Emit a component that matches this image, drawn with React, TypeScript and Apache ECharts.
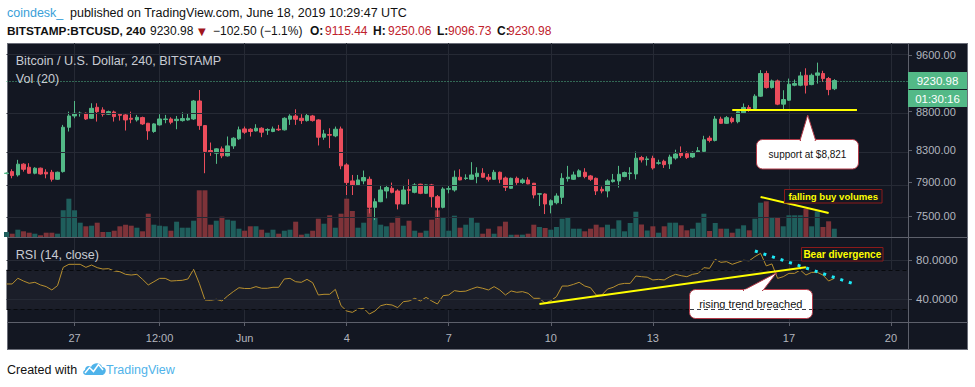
import React, { useEffect, useRef } from "react";
import * as echarts from "echarts";

const FONT = "'Liberation Sans', Arial, sans-serif";

// 4h candles, starting 2019-05-25 00:00 UTC
const categories: string[] = [];
for (let i = 0; i < 160; i++) {
  const d = new Date(Date.UTC(2019, 4, 25) + i * 4 * 3600 * 1000);
  categories.push(d.toISOString().slice(0, 16).replace("T", " "));
}

const timeTickIndex = [12, 27, 42, 60, 78, 96, 114, 138, 156];
const timeTickLabels = ["27", "12:00", "Jun", "4", "7", "10", "13", "17", "20"];
const priceTicks = [9600, 8800, 8300, 7900, 7500];
const priceMin = 7262;
const priceMax = 9778;
const volumeMax = 6000;
const rsiTicks = [80, 40];
const rsiBand = [30, 70];
const rsiMin = 16.9;
const rsiMax = 103.4;
const lastPrice = 9230.98;
const supportLevel = 8821;

const opens = [
  8005, 8028, 7987, 8120, 8082, 8008, 8070, 8020, 8020, 7934,
  8028, 8593, 8743, 8775, 8779, 8712, 8860, 8824, 8766, 8797,
  8766, 8757, 8712, 8690, 8721, 8646, 8537, 8624, 8695, 8703,
  8681, 8681, 8690, 8703, 8946, 8615, 8292, 8258, 8313, 8224,
  8351, 8442, 8571, 8567, 8545, 8580, 8555, 8537, 8567, 8559,
  8699, 8743, 8712, 8681, 8743, 8690, 8463, 8497, 8480, 8571,
  8111, 7914, 7866, 7914, 7934, 7600, 7666, 7793, 7825, 7793,
  7639, 7808, 7777, 7874, 7765, 7866, 7725, 7600, 7815, 7805,
  7959, 7943, 7934, 7967, 8008, 7959, 7934, 8020, 7950, 7825,
  7946, 7894, 7926, 7886, 7755, 7757, 7627, 7654, 7717, 7942,
  7934, 7967, 8020, 7975, 7946, 7813, 7793, 7906, 7914, 7967,
  8004, 7999, 8203, 8178, 8193, 8131, 8156, 8123, 8197, 8260,
  8251, 8210, 8268, 8281, 8451, 8421, 8702, 8645, 8711, 8667,
  8786, 8858, 8844, 9012, 9331, 9132, 9226, 8903, 8957, 9165,
  9165, 9306, 9174, 9306, 9331, 9259, 9115.44,
];
const closes = [
  8010, 7979, 8120, 8057, 8008, 8070, 7999, 7999, 7934, 8020,
  8593, 8743, 8779, 8782, 8703, 8846, 8801, 8766, 8801, 8734,
  8752, 8690, 8699, 8725, 8637, 8545, 8637, 8703, 8703, 8659,
  8699, 8708, 8712, 8946, 8615, 8279, 8267, 8313, 8224, 8351,
  8450, 8559, 8528, 8537, 8580, 8528, 8562, 8571, 8559, 8712,
  8743, 8699, 8681, 8748, 8681, 8463, 8506, 8489, 8567, 8099,
  7894, 7866, 7926, 7955, 7600, 7666, 7805, 7834, 7777, 7639,
  7805, 7802, 7866, 7765, 7866, 7725, 7600, 7817, 7820, 7959,
  7926, 7950, 7987, 8008, 7959, 7934, 8020, 7934, 7838, 7946,
  7894, 7926, 7878, 7745, 7760, 7639, 7678, 7733, 7946, 7959,
  7987, 8037, 7967, 7934, 7793, 7793, 7914, 7926, 7995, 8016,
  8012, 8195, 8174, 8186, 8073, 8137, 8114, 8210, 8247, 8226,
  8205, 8268, 8289, 8430, 8421, 8702, 8645, 8720, 8667, 8800,
  8858, 8831, 9012, 9331, 9132, 9226, 8903, 8966, 9179, 9188,
  9297, 9165, 9306, 9340, 9259, 9104, 9230.98,
];
const lows = [
  7995, 7946, 7967, 8028, 7999, 7995, 7990, 7946, 7906, 7926,
  8016, 8537, 8712, 8734, 8690, 8703, 8668, 8734, 8757, 8668,
  8681, 8550, 8646, 8668, 8624, 8429, 8520, 8615, 8646, 8633,
  8567, 8668, 8681, 8690, 8559, 8008, 8224, 8124, 8195, 8216,
  8313, 8429, 8506, 8472, 8537, 8463, 8493, 8528, 8545, 8550,
  8624, 8624, 8637, 8668, 8668, 8356, 8429, 8322, 8463, 8057,
  7745, 7745, 7854, 7874, 7530, 7453, 7660, 7705, 7765, 7576,
  7635, 7639, 7765, 7755, 7757, 7600, 7472, 7588, 7765, 7785,
  7922, 7926, 7930, 7886, 7955, 7906, 7926, 7886, 7793, 7817,
  7866, 7878, 7874, 7705, 7615, 7522, 7530, 7635, 7639, 7906,
  7926, 7959, 7946, 7914, 7745, 7765, 7717, 7894, 7834, 7959,
  7926, 7934, 8141, 8102, 8053, 8114, 8073, 8061, 8176, 8197,
  8185, 8197, 8260, 8268, 8396, 8408, 8636, 8636, 8645, 8645,
  8777, 8800, 8822, 9003, 9118, 9118, 8889, 8822, 8948, 9151,
  9151, 9049, 9165, 9188, 9212, 9025, 9096.73,
];
const highs = [
  8020, 8057, 8174, 8132, 8132, 8082, 8078, 8057, 8049, 8028,
  8624, 8801, 8946, 8801, 8790, 8915, 8915, 8860, 8815, 8815,
  8779, 8779, 8801, 8757, 8734, 8650, 8646, 8766, 8757, 8725,
  8743, 8792, 8779, 8960, 9098, 8620, 8394, 8322, 8343, 8472,
  8463, 8602, 8602, 8580, 8633, 8593, 8580, 8602, 8624, 8725,
  8766, 8833, 8766, 8779, 8757, 8699, 8559, 8580, 8602, 8602,
  8132, 7987, 7987, 8041, 7967, 7705, 7866, 7866, 7894, 7813,
  7866, 7934, 7886, 7880, 7870, 7878, 7745, 7838, 7854, 8041,
  8057, 7995, 8145, 8082, 8070, 7999, 8049, 8028, 7967, 7955,
  7967, 7946, 7959, 7890, 7765, 7765, 7693, 7765, 8008, 8099,
  8028, 8057, 8070, 7987, 7955, 7846, 7934, 7999, 8099, 8028,
  8082, 8279, 8224, 8218, 8226, 8176, 8176, 8239, 8302, 8344,
  8281, 8281, 8336, 8481, 8481, 8742, 8733, 8742, 8733, 8831,
  8912, 8889, 9039, 9380, 9370, 9245, 9245, 9095, 9259, 9245,
  9355, 9406, 9331, 9488, 9370, 9282, 9250.06,
];
const volumes = [
  500, 330, 730, 570, 430, 330, 170, 430, 430, 330,
  2670, 3830, 2670, 1430, 1070, 1130, 1430, 500, 500, 630,
  1070, 1230, 1130, 930, 570, 2330, 1230, 1130, 1070, 630,
  1530, 930, 930, 1630, 4670, 4670, 1230, 1630, 2030, 1730,
  1630, 830, 630, 1070, 1070, 730, 430, 730, 330, 630,
  730, 1530, 230, 330, 630, 1830, 1330, 2170, 930, 2330,
  3830, 2600, 930, 1430, 2830, 2000, 1230, 1070, 1430, 2030,
  1130, 1630, 630, 430, 630, 1730, 2670, 1930, 630, 2130,
  930, 1230, 1930, 1430, 330, 830, 330, 1070, 1530, 230,
  230, 230, 330, 1230, 1000, 900, 730, 1000, 1830, 1930,
  830, 830, 570, 830, 1230, 970, 1230, 830, 1670, 570,
  1400, 2530, 1250, 650, 1070, 430, 1070, 1430, 1430, 1170,
  670, 830, 1430, 2330, 600, 1400, 830, 830, 430, 830,
  1170, 670, 1830, 3430, 3570, 1930, 1930, 1070, 2170, 2170,
  2170, 2830, 1070, 2570, 1000, 1570, 830,
];
const rsi = [
  55.6, 55.6, 61.4, 58.6, 56.3, 57.3, 54.6, 52.9, 49.5, 53.9,
  72.5, 75.6, 75.6, 75.6, 72.5, 74.9, 72.2, 70.8, 71.2, 68.8,
  68.1, 65.4, 64.7, 65.4, 60.3, 54.6, 57.9, 61.3, 61.3, 58.6,
  59.0, 59.3, 60.7, 70.5, 56.3, 39.3, 39.0, 40.0, 38.3, 43.4,
  47.8, 51.8, 51.0, 51.0, 52.9, 51.2, 51.2, 52.2, 52.2, 60.7,
  61.3, 57.9, 57.3, 60.3, 56.9, 44.4, 45.1, 45.1, 50.1, 33.5,
  28.1, 26.7, 30.1, 30.8, 25.0, 28.1, 33.5, 34.9, 34.2, 31.5,
  37.6, 38.3, 41.0, 38.3, 42.0, 38.3, 35.2, 43.7, 44.4, 48.8,
  47.9, 48.3, 50.5, 52.5, 51.2, 49.5, 52.9, 49.5, 44.4, 48.5,
  47.1, 47.8, 46.1, 41.0, 41.0, 35.9, 38.6, 42.7, 53.5, 53.5,
  55.2, 57.3, 53.5, 51.8, 44.4, 44.4, 50.4, 52.2, 55.2, 56.2,
  56.2, 63.7, 63.0, 62.5, 59.7, 60.3, 59.7, 63.0, 65.4, 64.0,
  63.0, 65.4, 66.4, 72.2, 71.5, 80.7, 77.6, 78.3, 75.6, 77.6,
  79.7, 79.2, 83.4, 86.8, 74.0, 76.0, 61.3, 63.0, 66.4, 66.4,
  69.8, 64.7, 67.4, 67.4, 64.7, 58.6, 61.3,
];

// annotation anchors (category index, value)
const supportLine = [[128, supportLevel], [150, supportLevel]];
const volumeTrend = [[133, 4000], [145, 2400]];
const rsiTrend = [[94, 35.2], [141, 72.6]];
const rsiDivergence = [[132, 89.2], [150, 54.6]];

const UP = "#53b987";
const DOWN = "#eb4d5c";
const VOL_UP = "#1f5e5c";
const VOL_DOWN = "#7e3339";
const GRID = "#262a35";
const SEP = "#5d606b";
const AXIS_TEXT = "#b2b5be";
const PANE_TEXT = "#c8cbd3";
const HDR_RED = "#c0212b";

let logoRegistered = false;
function registerLogo() {
  if (logoRegistered) return;
  logoRegistered = true;
  echarts.graphic.registerShape(
    "tvlogo",
    echarts.graphic.extendPath(
      "M4 14 C1 14 0 10 3 9 C3 5 7 4 9 6 C11 1 19 1 20 6 C23 6 25 9 23 12 C22 13.5 21 14 20 14 Z",
      {}
    )
  );
}

const isTick = (i: number) => timeTickIndex.indexOf(i) >= 0;

function txt(x: number, y: number, text: string, o: any = {}) {
  return {
    type: "text",
    x,
    y,
    z: 100,
    silent: true,
    style: {
      text,
      fill: o.fill || "#000",
      fontSize: o.size || 12,
      fontWeight: o.weight || "normal",
      fontFamily: o.family || FONT,
      textAlign: o.align || "left",
      textVerticalAlign: "middle",
    },
  };
}

function buildOption() {
  const ln = Math.log;
  const candleData = opens.map((o, i) => [ln(o), ln(closes[i]), ln(lows[i]), ln(highs[i])]);
  const volData = volumes.map((v, i) => ({
    value: v,
    itemStyle: { color: closes[i] >= opens[i] ? VOL_UP : VOL_DOWN },
  }));

  const graphics: any[] = [
    // header
    txt(7, 13, "coindesk_", { fill: "#3aa0d8", size: 12.5 }),
    txt(70, 13, "published on TradingView.com, June 18, 2019 10:29:47 UTC", { fill: "#111", size: 12.5 }),
    txt(7, 31, "BITSTAMP:BTCUSD, 240", { weight: "bold", size: 11.8, fill: "#111" }),
    txt(150, 31, "9230.98", { size: 12, fill: "#111" }),
    txt(198, 31, "▼", { size: 10, fill: "#a0161c", family: "'DejaVu Sans', sans-serif" }),
    txt(213, 31, "−102.50 (−1.1%)", { size: 12, fill: "#111" }),
    txt(310, 31, "O:", { weight: "bold", size: 12, fill: "#111" }),
    txt(325, 31, "9115.44", { size: 12, fill: HDR_RED }),
    txt(373, 31, "H:", { weight: "bold", size: 12, fill: "#111" }),
    txt(388, 31, "9250.06", { size: 12, fill: HDR_RED }),
    txt(437, 31, "L:", { weight: "bold", size: 12, fill: "#111" }),
    txt(448, 31, "9096.73", { size: 12, fill: HDR_RED }),
    txt(497, 31, "C:", { weight: "bold", size: 12, fill: "#111" }),
    txt(508, 31, "9230.98", { size: 12, fill: HDR_RED }),
    // pane titles
    txt(15.7, 60.5, "Bitcoin / U.S. Dollar, 240, BITSTAMP", { fill: PANE_TEXT, size: 12.6 }),
    txt(15.7, 79, "Vol (20)", { fill: PANE_TEXT, size: 12.6 }),
    txt(15.7, 255, "RSI (14, close)", { fill: PANE_TEXT, size: 12.6 }),
    // separators
    { type: "line", z: 90, silent: true, shape: { x1: 908.5, y1: 43, x2: 908.5, y2: 350 }, style: { stroke: SEP, lineWidth: 1 } },
    { type: "line", z: 90, silent: true, shape: { x1: 7, y1: 237.5, x2: 968, y2: 237.5 }, style: { stroke: SEP, lineWidth: 1 } },
    { type: "line", z: 90, silent: true, shape: { x1: 7, y1: 322.5, x2: 968, y2: 322.5 }, style: { stroke: SEP, lineWidth: 1 } },
    // last price labels
    { type: "rect", z: 100, silent: true, shape: { x: 908, y: 72, width: 59, height: 17 }, style: { fill: UP } },
    txt(937.5, 80.5, "9230.98", { fill: "#fff", size: 11.5, align: "center" }),
    { type: "rect", z: 100, silent: true, shape: { x: 908, y: 90, width: 59, height: 17 }, style: { fill: UP } },
    txt(937.5, 98.5, "01:30:16", { fill: "#fff", size: 11.5, align: "center" }),
    // support callout
    { type: "rect", z: 100, silent: true, shape: { x: 756.5, y: 139.5, width: 102, height: 29.5, r: 6 }, style: { fill: "#fff", stroke: "#b23a48", lineWidth: 1 } },
    { type: "polygon", z: 101, silent: true, shape: { points: [[800, 140.5], [807.7, 115], [815.7, 140.5]] }, style: { fill: "#fff", stroke: "#b23a48", lineWidth: 1 } },
    { type: "line", z: 102, silent: true, shape: { x1: 801, y1: 140.5, x2: 814.7, y2: 140.5 }, style: { stroke: "#fff", lineWidth: 2 } },
    txt(807.5, 154.5, "support at $8,821", { fill: "#111", size: 10, align: "center", z: 103 }),
    // falling buy volumes label
    { type: "rect", z: 100, silent: true, shape: { x: 784.5, y: 189.5, width: 97.5, height: 13.5 }, style: { fill: "#131722", stroke: "#8b1a1a", lineWidth: 1 } },
    txt(833.2, 196.5, "falling buy volumes", { fill: "#ffff00", size: 9.6, weight: "bold", align: "center" }),
    // bear divergence label
    { type: "rect", z: 100, silent: true, shape: { x: 801.5, y: 247.5, width: 81.5, height: 13.5 }, style: { fill: "#131722", stroke: "#8b1a1a", lineWidth: 1 } },
    txt(842.3, 254.3, "Bear divergence", { fill: "#ffff00", size: 10, weight: "bold", align: "center" }),
    // rising trend callout
    { type: "rect", z: 100, silent: true, shape: { x: 689.5, y: 289.5, width: 123, height: 29, r: 6 }, style: { fill: "#fff", stroke: "#b23a48", lineWidth: 1 } },
    { type: "polygon", z: 101, silent: true, shape: { points: [[743, 290.5], [776.7, 272.7], [763, 290.5]] }, style: { fill: "#fff", stroke: "#b23a48", lineWidth: 1 } },
    { type: "line", z: 102, silent: true, shape: { x1: 744, y1: 290.5, x2: 762, y2: 290.5 }, style: { stroke: "#fff", lineWidth: 2 } },
    txt(750.8, 304.3, "rising trend breached", { fill: "#111", size: 11, align: "center" }),
    { type: "line", z: 104, silent: true, shape: { x1: 690, y1: 309.5, x2: 812, y2: 309.5 }, style: { stroke: "#3a3d46", lineWidth: 1, lineDash: [4, 3] } },
    // footer
    txt(7, 370, "Created with", { fill: "#111", size: 12.5 }),
    { type: "tvlogo", z: 100, silent: true, x: 82, y: 361, scaleX: 1, scaleY: 1, style: { fill: "#4fb3ea" } },
    { type: "polyline", z: 101, silent: true, shape: { points: [[85, 373], [89.5, 367.5], [93.5, 371.5], [98.5, 364.5], [103, 370]] }, style: { stroke: "#fff", lineWidth: 1.5, fill: null } },
    txt(106, 370, "TradingView", { fill: "#4fb3ea", size: 12.5 }),
  ];

  const xSplit = { show: true, interval: (i: number) => isTick(i), lineStyle: { color: GRID, width: 1 } };

  return {
    animation: false,
    backgroundColor: "transparent",
    grid: [
      { left: 6.5, right: 67, top: 43, height: 194 },
      { left: 6.5, right: 67, top: 177, height: 60 },
      { left: 6.5, right: 67, top: 237, height: 85 },
    ],
    xAxis: [
      {
        type: "category", gridIndex: 0, data: categories, boundaryGap: false,
        axisLine: { show: false }, axisTick: { show: false }, axisLabel: { show: false }, splitLine: xSplit,
      },
      { type: "category", gridIndex: 1, data: categories, boundaryGap: false, show: false },
      {
        type: "category", gridIndex: 2, data: categories, boundaryGap: false,
        axisLine: { show: false },
        axisTick: { show: true, interval: (i: number) => isTick(i), length: 4, lineStyle: { color: SEP } },
        axisLabel: {
          show: true, interval: (i: number) => isTick(i),
          formatter: (_v: string, i: number) => timeTickLabels[timeTickIndex.indexOf(i)] || "",
          color: AXIS_TEXT, fontSize: 11, fontFamily: FONT, margin: 10,
        },
        splitLine: xSplit,
      },
    ],
    yAxis: [
      {
        type: "value", gridIndex: 0, position: "right", min: ln(priceMin), max: ln(priceMax),
        axisLine: { show: false },
        axisTick: { show: true, customValues: priceTicks.map(ln), length: 4, lineStyle: { color: SEP } },
        axisLabel: {
          customValues: priceTicks.map(ln), formatter: (v: number) => Math.exp(v).toFixed(2),
          color: AXIS_TEXT, fontSize: 11, fontFamily: FONT, margin: 8,
        },
        splitLine: { show: false },
      },
      { type: "value", gridIndex: 1, min: 0, max: volumeMax, show: false },
      {
        type: "value", gridIndex: 2, position: "right", min: rsiMin, max: rsiMax,
        axisLine: { show: false },
        axisTick: { show: true, customValues: rsiTicks, length: 4, lineStyle: { color: SEP } },
        axisLabel: {
          customValues: rsiTicks, formatter: (v: number) => v.toFixed(4),
          color: AXIS_TEXT, fontSize: 11.5, fontFamily: FONT, margin: 8,
        },
        splitLine: { show: false },
      },
    ],
    series: [
      {
        type: "line", xAxisIndex: 0, yAxisIndex: 0, data: [], z: 1, silent: true,
        markLine: {
          silent: true, symbol: "none", label: { show: false },
          lineStyle: { color: GRID, type: "solid", width: 1 },
          data: priceTicks.map((p) => ({ yAxis: ln(p) })),
        },
      },
      {
        type: "line", xAxisIndex: 2, yAxisIndex: 2, data: [], z: 1, silent: true,
        markArea: {
          silent: true, itemStyle: { color: "#1b1e29" },
          data: [[{ yAxis: rsiBand[0] }, { yAxis: rsiBand[1] }]],
        },
        markLine: {
          silent: true, symbol: "none", label: { show: false },
          data: [
            ...rsiTicks.map((v) => ({ yAxis: v, lineStyle: { color: GRID, type: "solid", width: 1 } })),
            ...rsiBand.map((v) => ({ yAxis: v, lineStyle: { color: "#07090d", type: [4, 3], width: 1 } })),
          ],
        },
      },
      {
        type: "bar", xAxisIndex: 1, yAxisIndex: 1, data: volData, barWidth: 5, z: 2, silent: true,
        markLine: {
          silent: true, symbol: "none", label: { show: false },
          data: [[
            { coord: volumeTrend[0], lineStyle: { color: "#ffff00", width: 2, type: "solid" } },
            { coord: volumeTrend[1] },
          ]],
        },
      },
      {
        type: "candlestick", xAxisIndex: 0, yAxisIndex: 0, data: candleData, barWidth: 4, z: 3, clip: true, silent: true,
        itemStyle: { color: UP, color0: DOWN, borderColor: UP, borderColor0: DOWN, borderWidth: 1 },
        markLine: {
          silent: true, symbol: "none", label: { show: false },
          data: [
            { yAxis: ln(lastPrice), lineStyle: { color: UP, type: [1, 2], width: 1 } },
            [
              { coord: [supportLine[0][0], ln(supportLine[0][1])], lineStyle: { color: "#ffff00", width: 2, type: "solid" } },
              { coord: [supportLine[1][0], ln(supportLine[1][1])] },
            ],
          ],
        },
      },
      {
        type: "line", xAxisIndex: 2, yAxisIndex: 2, data: rsi, z: 3, symbol: "none", silent: true,
        lineStyle: { color: "#b8902f", width: 1 },
        markLine: {
          silent: true, symbol: "none", label: { show: false },
          data: [
            [
              { coord: rsiTrend[0], lineStyle: { color: "#ffff00", width: 2, type: "solid" } },
              { coord: rsiTrend[1] },
            ],
            [
              { coord: rsiDivergence[0], lineStyle: { color: "#1de9f6", width: 3, type: [3, 6] } },
              { coord: rsiDivergence[1] },
            ],
          ],
        },
      },
    ],
    graphic: { elements: graphics },
  };
}

export default function App() {
  const ref = useRef<HTMLDivElement>(null);
  useEffect(() => {
    if (!ref.current) return;
    registerLogo();
    const chart = echarts.init(ref.current, undefined, { renderer: "svg" });
    chart.setOption(buildOption() as any);
    return () => chart.dispose();
  }, []);
  return (
    <div style={{ position: "absolute", left: 0, top: 0, width: 975, height: 387, background: "#fff", overflow: "hidden" }}>
      <div
        style={{
          position: "absolute", left: 7, top: 43, width: 961, height: 307,
          background: "#131722", boxSizing: "border-box", border: "1px solid #6a6d78",
        }}
      />
      <div ref={ref} style={{ position: "absolute", left: 0, top: 0, width: 975, height: 387 }} />
    </div>
  );
}
